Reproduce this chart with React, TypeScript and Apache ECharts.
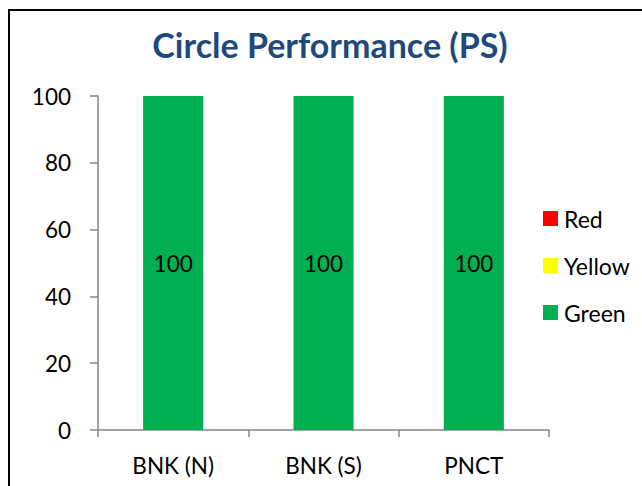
import React, { useEffect, useRef } from "react";
import * as echarts from "echarts";

const categories = ["BNK (N)", "BNK (S)", "PNCT"];
const redValues = [0, 0, 0];
const yellowValues = [0, 0, 0];
const greenValues = [100, 100, 100];
const yTicks = { min: 0, max: 100, interval: 20 };
const titleText = "Circle Performance (PS)";

export default function App() {
  const ref = useRef<HTMLDivElement>(null);
  useEffect(() => {
    if (!ref.current) return;
    const chart = echarts.init(ref.current, null, { renderer: "svg" });
    const font = "Lato";
    const axisColor = "#868686";
    chart.setOption({
      animation: false,
      backgroundColor: "#ffffff",
      title: {
        text: titleText,
        left: 325,
        textAlign: "center",
        top: 22,
        textStyle: { fontFamily: font, fontWeight: "bold", fontSize: 34, color: "#1F497D" },
      },
      graphic: [
        {
          type: "rect",
          shape: { x: 9, y: 10, width: 700, height: 600 },
          style: { fill: "none", stroke: "#000", lineWidth: 2 },
          silent: true,
        },
      ],
      legend: {
        orient: "vertical",
        left: 538,
        top: 202,
        itemWidth: 15,
        itemHeight: 15,
        itemGap: 24,
        icon: "rect",
        data: ["Red", "Yellow", "Green"],
        textStyle: { fontFamily: font, fontSize: 23, color: "#000", padding: [0, 0, 0, 1] },
      },
      grid: { left: 98, right: 93, top: 96, bottom: 56 },
      xAxis: {
        type: "category",
        data: categories,
        axisLine: { lineStyle: { color: axisColor, width: 1.5 } },
        axisTick: { show: true, length: 7, alignWithLabel: false, lineStyle: { color: axisColor, width: 1.5 } },
        axisLabel: { fontFamily: font, fontSize: 22.5, color: "#000", margin: 24 },
      },
      yAxis: {
        type: "value",
        min: yTicks.min,
        max: yTicks.max,
        interval: yTicks.interval,
        splitLine: { show: false },
        axisLine: { show: true, lineStyle: { color: axisColor, width: 1.5 } },
        axisTick: { show: true, length: 8, lineStyle: { color: axisColor, width: 1.5 } },
        axisLabel: { fontFamily: font, fontSize: 22.5, color: "#000", margin: 27 },
      },
      series: [
        { name: "Red", type: "bar", stack: "s", data: redValues, barWidth: "40%", itemStyle: { color: "#FF0000" }, label: { show: false } },
        { name: "Yellow", type: "bar", stack: "s", data: yellowValues, barWidth: "40%", itemStyle: { color: "#FFFF00" }, label: { show: false } },
        {
          name: "Green",
          type: "bar",
          stack: "s",
          data: greenValues,
          barWidth: "40%",
          itemStyle: { color: "#00B050" },
          label: { show: true, position: "inside", fontFamily: font, fontSize: 22.5, color: "#000" },
        },
      ],
    });
    return () => chart.dispose();
  }, []);
  return <div ref={ref} style={{ width: 642, height: 486, position: "absolute", left: 0, top: 0 }} />;
}
